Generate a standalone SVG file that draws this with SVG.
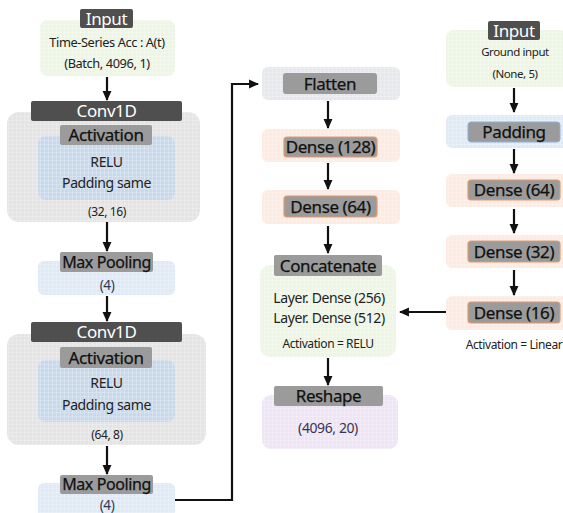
<svg xmlns="http://www.w3.org/2000/svg" width="563" height="513" viewBox="0 0 563 513">
<defs>
<pattern id="grid" width="4" height="4" patternUnits="userSpaceOnUse">
<path d="M0 0.5H4M0.5 0V4" stroke="#ffffff" stroke-opacity="0.35" stroke-width="0.6" fill="none"/>
</pattern>
<marker id="ah" viewBox="0 0 10 10" refX="9" refY="5" markerWidth="4.5" markerHeight="4.5" orient="auto-start-reverse" markerUnits="strokeWidth">
<path d="M0 0.5L10 5L0 9.5z" fill="#111"/>
</marker>
<style>
text{font-family:"Noto Sans","Noto Sans CJK KR","Liberation Sans",sans-serif;text-anchor:middle;letter-spacing:-0.4px}
.green{fill:#edf6e5}
.gray{fill:#e4e4e4}
.blue{fill:#dfeaf6}
.inblue{fill:#c9d9ea}
.peach{fill:#fcebe1}
.purple{fill:#eee5f4}
.flat{fill:#e6e8ec}
.tex{fill:url(#grid)}
.dark{fill:#4f4f4f}
.lab{fill:#9b9b9b}
.labo{fill:#9b9b9b;stroke:#e29a70;stroke-width:1.2}
.wt{fill:#ffffff;font-size:17px}
.bt{fill:#111;font-size:17px;stroke:#111;stroke-width:0.25}
.st{fill:#222;font-size:14px}
.sm{fill:#222;font-size:12px}
.bl{fill:#2c3a5a;font-size:13.5px}
.conn{stroke:#111;stroke-width:2.2;fill:none;marker-end:url(#ah)}
</style>
</defs>
<rect width="563" height="513" fill="#ffffff"/>

<g id="input1">
<rect class="green" x="40" y="20" width="135" height="56" rx="8"/>
<rect class="tex" x="40" y="20" width="135" height="56" rx="8"/>
<rect class="dark" x="80" y="9" width="53" height="19" rx="2"/>
<text class="wt" x="106.5" y="24.5">Input</text>
<text class="sm" x="107" y="47" style="font-size:12.8px">Time-Series Acc : A(t)</text>
<text class="sm" x="107" y="68" style="font-size:12.8px">(Batch, 4096, 1)</text>
</g>

<g id="conv1">
<rect class="gray" x="7" y="112" width="193" height="110" rx="12"/>
<rect class="tex" x="7" y="112" width="193" height="110" rx="12"/>
<rect class="dark" x="31" y="101" width="151" height="20" rx="2"/>
<text class="wt" x="106.5" y="117">Conv1D</text>
<rect class="inblue" x="38" y="136" width="137" height="64" rx="8"/>
<rect class="tex" x="38" y="136" width="137" height="64" rx="8"/>
<rect class="lab" x="60" y="125" width="92" height="20" rx="2"/>
<text class="bt" x="106" y="141">Activation</text>
<text class="st" x="106.5" y="167">RELU</text>
<text class="st" x="106.5" y="188">Padding same</text>
<text class="sm" x="107" y="216">(32, 16)</text>
</g>

<g id="pool1">
<rect class="blue" x="38" y="261" width="137" height="34" rx="6"/>
<rect class="tex" x="38" y="261" width="137" height="34" rx="6"/>
<rect class="lab" x="60" y="252" width="93" height="20" rx="2"/>
<text class="bt" x="106.5" y="268" style="font-size:16px">Max Pooling</text>
<text class="bl" x="107" y="290">(4)</text>
</g>

<g id="conv2">
<rect class="gray" x="7" y="334" width="199" height="111" rx="12"/>
<rect class="tex" x="7" y="334" width="199" height="111" rx="12"/>
<rect class="dark" x="31" y="322" width="151" height="20" rx="2"/>
<text class="wt" x="106.5" y="338">Conv1D</text>
<rect class="inblue" x="38" y="360" width="137" height="62" rx="8"/>
<rect class="tex" x="38" y="360" width="137" height="62" rx="8"/>
<rect class="lab" x="60" y="347" width="92" height="21" rx="2"/>
<text class="bt" x="106" y="363.5">Activation</text>
<text class="st" x="106.5" y="388">RELU</text>
<text class="st" x="106.5" y="410">Padding same</text>
<text class="sm" x="107" y="439">(64, 8)</text>
</g>

<g id="pool2">
<rect class="blue" x="38" y="483" width="137" height="34" rx="6"/>
<rect class="tex" x="38" y="483" width="137" height="34" rx="6"/>
<rect class="lab" x="60" y="475" width="93" height="19" rx="2"/>
<text class="bt" x="106.5" y="490" style="font-size:16px">Max Pooling</text>
<text class="bl" x="107" y="510">(4)</text>
</g>

<g id="flatten">
<rect class="flat" x="262" y="67" width="138" height="33" rx="6"/>
<rect class="tex" x="262" y="67" width="138" height="33" rx="6"/>
<rect class="lab" x="283" y="73" width="94" height="21" rx="3"/>
<text class="bt" x="330" y="89.5">Flatten</text>
</g>

<g id="dense128">
<rect class="peach" x="262" y="129" width="138" height="33" rx="6"/>
<rect class="tex" x="262" y="129" width="138" height="33" rx="6"/>
<rect class="labo" x="284" y="137" width="93" height="20" rx="3"/>
<text class="bt" x="330.5" y="153">Dense (128)</text>
</g>

<g id="dense64a">
<rect class="peach" x="262" y="190" width="138" height="34" rx="6"/>
<rect class="tex" x="262" y="190" width="138" height="34" rx="6"/>
<rect class="labo" x="284" y="196" width="93" height="21" rx="3"/>
<text class="bt" x="330.5" y="212.5">Dense (64)</text>
</g>

<g id="concat">
<rect class="green" x="260" y="265" width="136" height="92" rx="10"/>
<rect class="tex" x="260" y="265" width="136" height="92" rx="10"/>
<rect class="lab" x="274" y="255" width="108" height="21" rx="2"/>
<text class="bt" x="328" y="271.5">Concatenate</text>
<text class="st" x="329" y="303">Layer. Dense (256)</text>
<text class="st" x="329" y="323">Layer. Dense (512)</text>
<text class="sm" x="328" y="347.5">Activation = RELU</text>
</g>

<g id="reshape">
<rect class="purple" x="262" y="395" width="136" height="54" rx="9"/>
<rect class="tex" x="262" y="395" width="136" height="54" rx="9"/>
<rect class="lab" x="274" y="386" width="109" height="20" rx="2"/>
<text class="bt" x="328.5" y="402">Reshape</text>
<text class="st" x="328" y="433" style="fill:#3a3350">(4096, 20)</text>
</g>

<g id="input2">
<rect class="green" x="446" y="30" width="122" height="57" rx="8"/>
<rect class="tex" x="446" y="30" width="122" height="57" rx="8"/>
<rect class="dark" x="488" y="21" width="52" height="19" rx="2"/>
<text class="wt" x="514" y="36.5">Input</text>
<text class="sm" x="515" y="56" style="font-size:11.5px">Ground input</text>
<text class="sm" x="515" y="78" style="font-size:11.5px">(None, 5)</text>
</g>

<g id="padding">
<rect class="blue" x="446" y="115" width="122" height="33" rx="6"/>
<rect class="tex" x="446" y="115" width="122" height="33" rx="6"/>
<rect x="468" y="122" width="92" height="20" rx="3" fill="#9b9b9b" stroke="#8fb0d8" stroke-width="1"/>
<text class="bt" x="514" y="138">Padding</text>
</g>

<g id="dense64b">
<rect class="peach" x="446" y="174" width="122" height="33" rx="6"/>
<rect class="tex" x="446" y="174" width="122" height="33" rx="6"/>
<rect class="labo" x="468" y="180" width="92" height="20" rx="3"/>
<text class="bt" x="514" y="196">Dense (64)</text>
</g>

<g id="dense32">
<rect class="peach" x="446" y="235" width="122" height="33" rx="6"/>
<rect class="tex" x="446" y="235" width="122" height="33" rx="6"/>
<rect class="labo" x="468" y="241" width="92" height="21" rx="3"/>
<text class="bt" x="514" y="257.5">Dense (32)</text>
</g>

<g id="dense16">
<rect class="peach" x="446" y="296" width="122" height="34" rx="6"/>
<rect class="tex" x="446" y="296" width="122" height="34" rx="6"/>
<rect class="labo" x="468" y="302" width="92" height="21" rx="3"/>
<text class="bt" x="514" y="318.5">Dense (16)</text>
<text class="sm" x="514" y="349">Activation = Linear</text>
</g>

<g id="connectors">
<line class="conn" x1="107" y1="77" x2="107" y2="100"/>
<line class="conn" x1="107" y1="222" x2="107" y2="251"/>
<line class="conn" x1="107" y1="296" x2="107" y2="321"/>
<line class="conn" x1="107" y1="446" x2="107" y2="474"/>
<polyline class="conn" points="175,500 232,500 232,84 258,84"/>
<line class="conn" x1="328" y1="101" x2="328" y2="128"/>
<line class="conn" x1="328" y1="163" x2="328" y2="189"/>
<line class="conn" x1="328" y1="226" x2="328" y2="253"/>
<line class="conn" x1="328" y1="358" x2="328" y2="385"/>
<line class="conn" x1="514" y1="88" x2="514" y2="112"/>
<line class="conn" x1="514" y1="149" x2="514" y2="173"/>
<line class="conn" x1="514" y1="209" x2="514" y2="233"/>
<line class="conn" x1="514" y1="270" x2="514" y2="295"/>
<line class="conn" x1="446" y1="312" x2="400" y2="312"/>
</g>
</svg>
